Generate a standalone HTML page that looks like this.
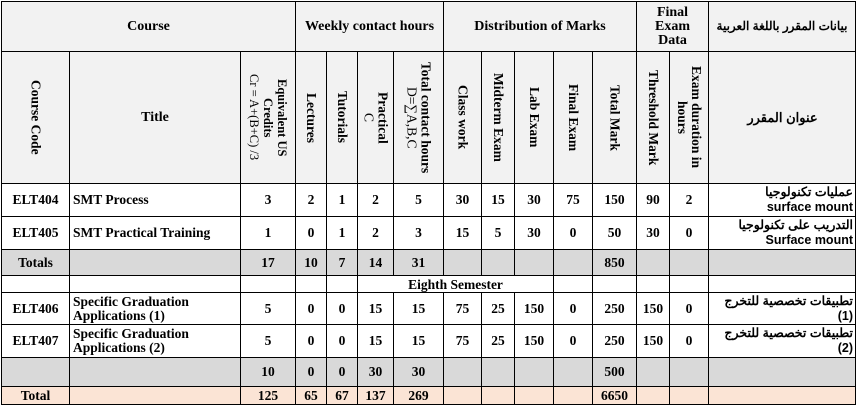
<!DOCTYPE html>
<html><head><meta charset="utf-8">
<style>
html,body{margin:0;padding:0;background:#fff;width:858px;height:405px;overflow:hidden}
table{position:absolute;left:1px;top:1px;border-collapse:collapse;table-layout:fixed;font-family:"Liberation Serif","Noto Serif CJK SC",serif;font-weight:bold;font-size:13.5px;color:#000}
td{border:1px solid #000;padding:0 3px;text-align:center;vertical-align:middle;overflow:hidden;line-height:14px}
.h{background:#f2f2f2;font-size:14px}
.v{writing-mode:vertical-rl;margin:auto;white-space:nowrap;font-size:13.5px;line-height:14px}
.l{text-align:left}
.ar{text-align:right;font-family:"Liberation Sans","Noto Sans CJK SC",sans-serif;font-size:12.5px;line-height:15px;padding-right:2px}
.g td{background:#d9d9d9}
.p td{background:#fbe4d5}
</style></head><body>
<table>
<colgroup><col style="width:68px"><col style="width:171px"><col style="width:55px"><col style="width:31px"><col style="width:31px"><col style="width:36px"><col style="width:50px"><col style="width:38px"><col style="width:33px"><col style="width:39px"><col style="width:39px"><col style="width:44px"><col style="width:33px"><col style="width:39px"><col style="width:147px"></colgroup>
<tr style="height:50px">
<td class="h" colspan="3">Course</td>
<td class="h" colspan="4">Weekly contact hours</td>
<td class="h" colspan="5">Distribution of Marks</td>
<td class="h" colspan="2">Final<br>Exam<br>Data</td>
<td class="h ar" style="text-align:center;font-size:12px;white-space:nowrap;padding:0">بيانات المقرر باللغة العربية</td>
</tr>
<tr style="height:132px">
<td class="h"><div class="v">Course Code</div></td>
<td class="h">Title</td>
<td class="h"><div class="v" style="font-size:12.5px">Equivalent US<br>Credits<br><span style="font-weight:normal">Cr = A+(B+C) /3</span></div></td>
<td class="h"><div class="v">Lectures</div></td>
<td class="h"><div class="v">Tutorials</div></td>
<td class="h"><div class="v">Practical<br><span style="font-weight:normal">C</span></div></td>
<td class="h"><div class="v">Total contact hours<br><span style="font-weight:normal">D=∑A,B,C</span></div></td>
<td class="h"><div class="v">Class work</div></td>
<td class="h"><div class="v">Midterm Exam</div></td>
<td class="h"><div class="v">Lab Exam</div></td>
<td class="h"><div class="v">Final Exam</div></td>
<td class="h"><div class="v">Total Mark</div></td>
<td class="h"><div class="v">Threshold Mark</div></td>
<td class="h"><div class="v">Exam duration in<br>hours</div></td>
<td class="h ar" style="text-align:center;font-size:13px">عنوان المقرر</td>
</tr>
<tr style="height:33px">
<td>ELT404</td><td class="l">SMT Process</td><td>3</td><td>2</td><td>1</td><td>2</td><td>5</td><td>30</td><td>15</td><td>30</td><td>75</td><td>150</td><td>90</td><td>2</td><td class="ar">عمليات تكنولوجيا<br>surface mount</td>
</tr>
<tr style="height:33px">
<td>ELT405</td><td class="l">SMT Practical Training</td><td>1</td><td>0</td><td>1</td><td>2</td><td>3</td><td>15</td><td>5</td><td>30</td><td>0</td><td>50</td><td>30</td><td>0</td><td class="ar">التدريب على تكنولوجيا<br>Surface mount</td>
</tr>
<tr class="g" style="height:26px">
<td>Totals</td><td></td><td>17</td><td>10</td><td>7</td><td>14</td><td>31</td><td></td><td></td><td></td><td></td><td>850</td><td></td><td></td><td></td>
</tr>
<tr style="height:17px">
<td></td><td></td><td></td><td></td><td></td><td colspan="5" style="line-height:13px">Eighth Semester</td><td></td><td></td><td></td><td></td><td></td>
</tr>
<tr style="height:32px">
<td>ELT406</td><td class="l">Specific Graduation<br>Applications (1)</td><td>5</td><td>0</td><td>0</td><td>15</td><td>15</td><td>75</td><td>25</td><td>150</td><td>0</td><td>250</td><td>150</td><td>0</td><td class="ar">تطبيقات تخصصية للتخرج<br>(1)</td>
</tr>
<tr style="height:33px">
<td>ELT407</td><td class="l">Specific Graduation<br>Applications (2)</td><td>5</td><td>0</td><td>0</td><td>15</td><td>15</td><td>75</td><td>25</td><td>150</td><td>0</td><td>250</td><td>150</td><td>0</td><td class="ar">تطبيقات تخصصية للتخرج<br>(2)</td>
</tr>
<tr class="g" style="height:29px">
<td></td><td></td><td>10</td><td>0</td><td>0</td><td>30</td><td>30</td><td></td><td></td><td></td><td></td><td>500</td><td></td><td></td><td></td>
</tr>
<tr class="p" style="height:18px">
<td>Total</td><td></td><td>125</td><td>65</td><td>67</td><td>137</td><td>269</td><td></td><td></td><td></td><td></td><td>6650</td><td></td><td></td><td></td>
</tr>
</table>
</body></html>
